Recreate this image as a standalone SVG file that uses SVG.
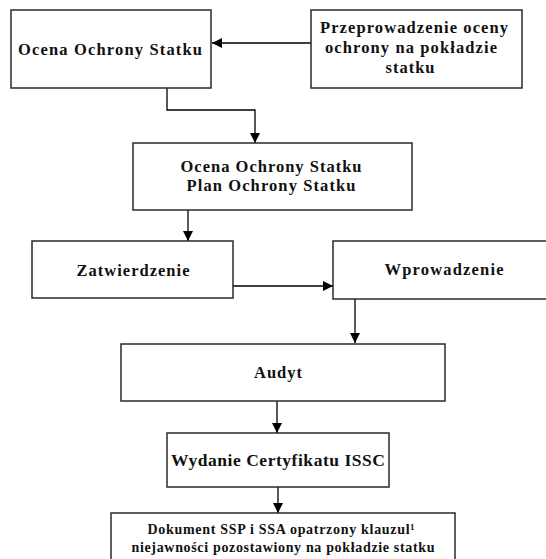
<svg xmlns="http://www.w3.org/2000/svg" width="546" height="559" viewBox="0 0 546 559">
  <style>
    .box { fill: #ffffff; stroke: #2a2a2a; stroke-width: 1.5; }
    .lbl { font-family: "Liberation Serif", "Times New Roman", serif; font-weight: bold; font-size: 16.5px; fill: #111; text-anchor: middle; }
    .sm { font-size: 14px; }
    .lg { font-size: 17.5px; }
    .wire { fill: none; stroke: #000; stroke-width: 1.3; }
  </style>
  <defs>
    <marker id="head" viewBox="0 0 10 10" refX="10" refY="5" markerWidth="10" markerHeight="10" markerUnits="userSpaceOnUse" orient="auto">
      <path d="M0,0 L10,5 L0,10 Z" fill="#000"/>
    </marker>
  </defs>
  <rect width="546" height="559" fill="#ffffff"/>

  <g id="connectors">
    <path class="wire" d="M311,43 H212" marker-end="url(#head)"/>
    <path class="wire" d="M167,88 V110 H255 V143" marker-end="url(#head)"/>
    <path class="wire" d="M188,210 V241" marker-end="url(#head)"/>
    <path class="wire" d="M233,286 H333" marker-end="url(#head)"/>
    <path class="wire" d="M355,299 V343" marker-end="url(#head)"/>
    <path class="wire" d="M277,401 V433" marker-end="url(#head)"/>
    <path class="wire" d="M278,487 V513" marker-end="url(#head)"/>
  </g>

  <g id="ocena">
    <rect class="box" x="11" y="10" width="200" height="78"/>
    <text class="lbl" x="110" y="55" textLength="184" lengthAdjust="spacing">Ocena Ochrony Statku</text>
  </g>

  <g id="przeprowadzenie">
    <rect class="box" x="311" y="10" width="211" height="78"/>
    <text class="lbl" x="414" y="33" textLength="188" lengthAdjust="spacing">Przeprowadzenie oceny</text>
    <text class="lbl" x="411" y="53" textLength="172" lengthAdjust="spacing">ochrony na pokładzie</text>
    <text class="lbl" x="410" y="73" textLength="49" lengthAdjust="spacing">statku</text>
  </g>

  <g id="ocena-plan">
    <rect class="box" x="133" y="143" width="279" height="67"/>
    <text class="lbl" x="271" y="172" textLength="181" lengthAdjust="spacing">Ocena Ochrony Statku</text>
    <text class="lbl" x="271" y="191" textLength="169" lengthAdjust="spacing">Plan Ochrony Statku</text>
  </g>

  <g id="zatwierdzenie">
    <rect class="box" x="32" y="241" width="201" height="57"/>
    <text class="lbl" x="133" y="276" textLength="113" lengthAdjust="spacing">Zatwierdzenie</text>
  </g>

  <g id="wprowadzenie">
    <rect class="box" x="333" y="241" width="216" height="58"/>
    <text class="lbl" x="444" y="275" textLength="119" lengthAdjust="spacing">Wprowadzenie</text>
  </g>

  <g id="audyt">
    <rect class="box" x="121" y="344" width="324" height="57"/>
    <text class="lbl" x="278" y="378" textLength="48" lengthAdjust="spacing">Audyt</text>
  </g>

  <g id="wydanie">
    <rect class="box" x="167" y="433" width="222" height="54"/>
    <text class="lbl lg" x="278" y="466" textLength="214" lengthAdjust="spacing">Wydanie Certyfikatu ISSC</text>
  </g>

  <g id="dokument">
    <rect class="box" x="111" y="513" width="344" height="60"/>
    <text class="lbl sm" x="281" y="534" textLength="267" lengthAdjust="spacing">Dokument SSP i SSA opatrzony klauzul¹</text>
    <text class="lbl sm" x="283" y="552" textLength="303" lengthAdjust="spacing">niejawności pozostawiony na pokładzie statku</text>
  </g>
</svg>
